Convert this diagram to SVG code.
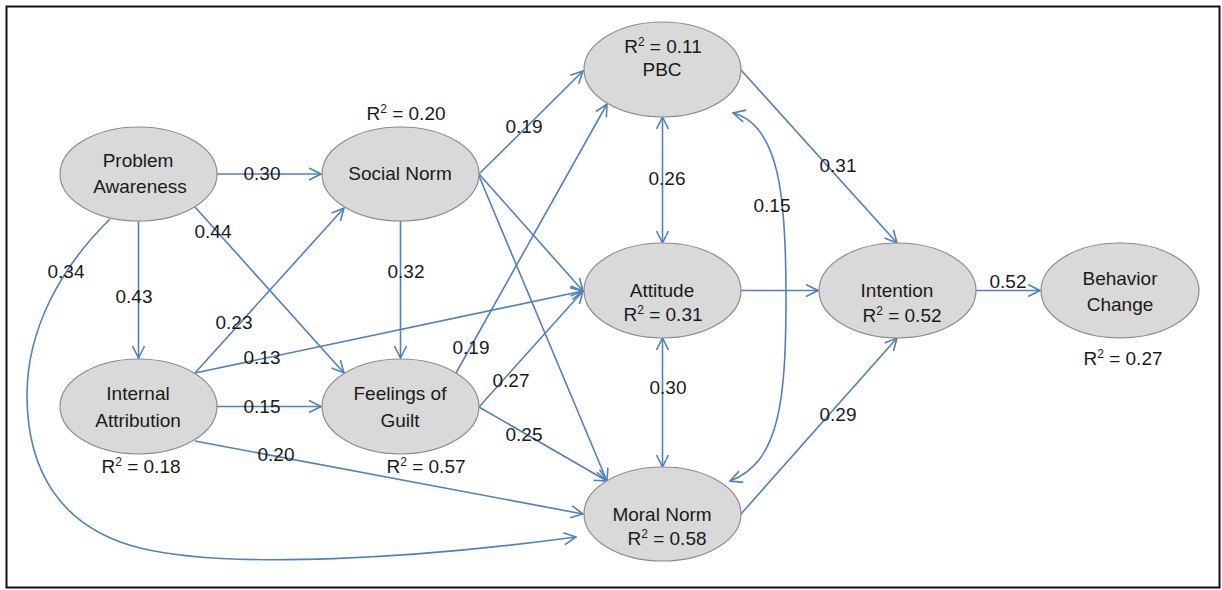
<svg xmlns="http://www.w3.org/2000/svg" width="1222" height="590" viewBox="0 0 1222 590">
<style>
.n{fill:#d9d9d9;stroke:#8c8c8c;stroke-width:1.2}
.t{font-family:"Liberation Sans",Arial,sans-serif;font-size:19px;fill:#1a1a1a;text-anchor:middle}
.e{fill:none;stroke:#4f81bd;stroke-width:1.6}
.sup{font-size:12px}
</style>
<defs>
<marker id="a" viewBox="0 0 14 14" refX="13" refY="7" markerWidth="14" markerHeight="14" markerUnits="userSpaceOnUse" orient="auto-start-reverse">
<path d="M1,1 L13,7 L1,13" fill="none" stroke="#4f81bd" stroke-width="1.6"/>
</marker>
</defs>
<rect x="0" y="0" width="1222" height="590" fill="#fff"/>
<rect x="6.5" y="6.5" width="1213" height="581" fill="none" stroke="#111" stroke-width="2"/>
<g id="connectors">
<path class="e" d="M217,174 L321,174" marker-end="url(#a)"/>
<path class="e" d="M138.5,221 L138.5,358" marker-end="url(#a)"/>
<path class="e" d="M195,207 L344,373" marker-end="url(#a)"/>
<path class="e" d="M110,219 C60,268 27,330 27,395 C27,470 60,528 140,548 C230,570 420,558 576,537" marker-end="url(#a)"/>
<path class="e" d="M195,373 L344,208" marker-end="url(#a)"/>
<path class="e" d="M195,373 L583,291" marker-end="url(#a)"/>
<path class="e" d="M217,406.5 L321,406.5" marker-end="url(#a)"/>
<path class="e" d="M195,441 L583,514" marker-end="url(#a)"/>
<path class="e" d="M400.5,221 L400.5,358" marker-end="url(#a)"/>
<path class="e" d="M479,174 L583,71" marker-end="url(#a)"/>
<path class="e" d="M479,174 L583,291" marker-end="url(#a)"/>
<path class="e" d="M479,176 L607,481" marker-end="url(#a)"/>
<path class="e" d="M456,373 L607,104" marker-end="url(#a)"/>
<path class="e" d="M479,407 L583,291" marker-end="url(#a)"/>
<path class="e" d="M479,407 L607,481" marker-end="url(#a)"/>
<path class="e" d="M662.5,117 L662.5,243" marker-start="url(#a)" marker-end="url(#a)"/>
<path class="e" d="M662.5,338 L662.5,467" marker-start="url(#a)" marker-end="url(#a)"/>
<path class="e" d="M733,113 C780,125 786,200 786,295 C786,400 780,462 730,481" marker-start="url(#a)" marker-end="url(#a)"/>
<path class="e" d="M741,70 L897,243" marker-end="url(#a)"/>
<path class="e" d="M741,290.5 L818,290.5" marker-end="url(#a)"/>
<path class="e" d="M741,514 L897,338" marker-end="url(#a)"/>
<path class="e" d="M976,290.5 L1040,290.5" marker-end="url(#a)"/>
</g>
<g id="edge-labels">
<text class="t" x="262" y="180">0.30</text>
<text class="t" x="213" y="238">0.44</text>
<text class="t" x="66" y="278">0.34</text>
<text class="t" x="134" y="303">0.43</text>
<text class="t" x="406" y="278">0.32</text>
<text class="t" x="524" y="133">0.19</text>
<text class="t" x="667" y="185">0.26</text>
<text class="t" x="772" y="212">0.15</text>
<text class="t" x="838" y="172">0.31</text>
<text class="t" x="1008" y="288">0.52</text>
<text class="t" x="838" y="421">0.29</text>
<text class="t" x="668" y="394">0.30</text>
<text class="t" x="471" y="354">0.19</text>
<text class="t" x="511" y="387">0.27</text>
<text class="t" x="524" y="441">0.25</text>
<text class="t" x="234" y="329">0.23</text>
<text class="t" x="262" y="364">0.13</text>
<text class="t" x="262" y="413">0.15</text>
<text class="t" x="276" y="461">0.20</text>
</g>
<g id="problem-awareness">
<ellipse class="n" cx="138.5" cy="174" rx="78.5" ry="47"/>
<text class="t" x="138" y="167">Problem</text>
<text class="t" x="140" y="193">Awareness</text>
</g>
<g id="social-norm">
<ellipse class="n" cx="400.5" cy="174" rx="78.5" ry="47"/>
<text class="t" x="400" y="180">Social Norm</text>
<text class="t" x="406" y="120">R<tspan class="sup" dy="-7">2</tspan><tspan dy="7"> = 0.20</tspan></text>
</g>
<g id="internal-attribution">
<ellipse class="n" cx="138.5" cy="406.5" rx="78.5" ry="47.5"/>
<text class="t" x="138" y="400">Internal</text>
<text class="t" x="138" y="427">Attribution</text>
<text class="t" x="141" y="473">R<tspan class="sup" dy="-7">2</tspan><tspan dy="7"> = 0.18</tspan></text>
</g>
<g id="feelings-of-guilt">
<ellipse class="n" cx="400.5" cy="406.5" rx="78.5" ry="47.5"/>
<text class="t" x="400" y="400">Feelings of</text>
<text class="t" x="400" y="427">Guilt</text>
<text class="t" x="426" y="473">R<tspan class="sup" dy="-7">2</tspan><tspan dy="7"> = 0.57</tspan></text>
</g>
<g id="pbc">
<ellipse class="n" cx="662.5" cy="69.5" rx="78.5" ry="47.5"/>
<text class="t" x="663" y="53">R<tspan class="sup" dy="-7">2</tspan><tspan dy="7"> = 0.11</tspan></text>
<text class="t" x="662" y="76">PBC</text>
</g>
<g id="attitude">
<ellipse class="n" cx="662.5" cy="290.5" rx="78.5" ry="47.5"/>
<text class="t" x="662" y="297">Attitude</text>
<text class="t" x="663" y="321">R<tspan class="sup" dy="-7">2</tspan><tspan dy="7"> = 0.31</tspan></text>
</g>
<g id="moral-norm">
<ellipse class="n" cx="662.5" cy="514" rx="78.5" ry="47"/>
<text class="t" x="662" y="521">Moral Norm</text>
<text class="t" x="667" y="545">R<tspan class="sup" dy="-7">2</tspan><tspan dy="7"> = 0.58</tspan></text>
</g>
<g id="intention">
<ellipse class="n" cx="897.5" cy="290.5" rx="78.5" ry="47.5"/>
<text class="t" x="897" y="297">Intention</text>
<text class="t" x="902" y="322">R<tspan class="sup" dy="-7">2</tspan><tspan dy="7"> = 0.52</tspan></text>
</g>
<g id="behavior-change">
<ellipse class="n" cx="1120" cy="290.5" rx="79" ry="47.5"/>
<text class="t" x="1120" y="285">Behavior</text>
<text class="t" x="1120" y="311">Change</text>
<text class="t" x="1123" y="365">R<tspan class="sup" dy="-7">2</tspan><tspan dy="7"> = 0.27</tspan></text>
</g>
</svg>
